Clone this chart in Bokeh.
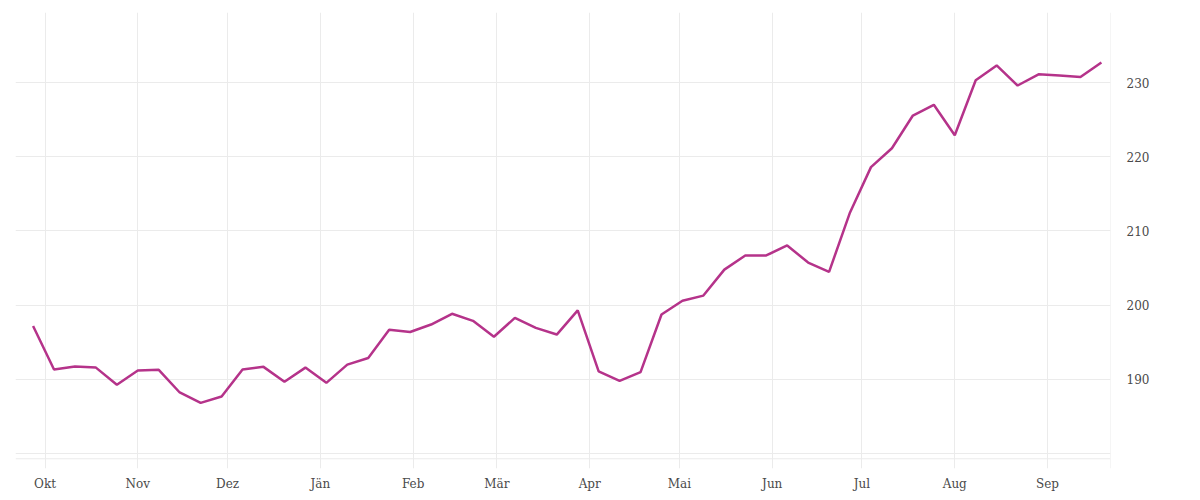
import datetime as dt
import pandas as pd
from bokeh.plotting import figure
from bokeh.models import FixedTicker, Range1d, Span
from bokeh.embed import file_html
from bokeh.resources import INLINE

# ---- data ----
start_date = "2022-09-27"
values = [
    197.2, 191.35, 191.75, 191.6, 189.3, 191.2, 191.3, 188.25, 186.85, 187.7,
    191.35, 191.7, 189.7, 191.6, 189.55, 192.0, 192.9, 196.7, 196.4, 197.4,
    198.85, 197.9, 195.75, 198.3, 196.95, 196.05, 199.3, 191.1, 189.8, 191.0,
    198.75, 200.6, 201.3, 204.8, 206.7, 206.7, 208.05, 205.75, 204.5, 212.5,
    218.6, 221.15, 225.55, 227.0, 222.9, 230.3, 232.3, 229.6, 231.1, 230.95,
    230.75, 232.7,
]
dates = pd.date_range(start_date, periods=len(values), freq="7D")

month_starts = ["2022-10-01", "2022-11-01", "2022-12-01", "2023-01-01", "2023-02-01",
                "2023-03-01", "2023-04-01", "2023-05-01", "2023-06-01", "2023-07-01",
                "2023-08-01", "2023-09-01"]
month_labels = ["Okt", "Nov", "Dez", "Jän", "Feb", "Mär", "Apr", "Mai", "Jun", "Jul", "Aug", "Sep"]
y_ticks = [180, 190, 200, 210, 220, 230]
y_labels = ["", "190", "200", "210", "220", "230"]

# ---- figure ----
def ms(s):
    return pd.Timestamp(s).value / 1e6

x_start = ms("2022-09-21 03:00")
x_end = ms("2023-09-22 01:00")
edge_tick = ms("2023-09-21 23:00")

FONT = "DejaVu Serif"

p = figure(
    x_axis_type="datetime",
    frame_width=1095, frame_height=456,
    x_range=Range1d(x_start, x_end),
    y_range=Range1d(178.01, 239.43),
    y_axis_location="right",
    output_backend="svg", toolbar_location=None,
    min_border_left=15, min_border_top=12, min_border_right=40, min_border_bottom=10,
    background_fill_color="white", border_fill_color="white",
    outline_line_color=None,
)

x_ticks = [ms(d) for d in month_starts] + [edge_tick]
x_over = {ms(d): lab for d, lab in zip(month_starts, month_labels)}
x_over[edge_tick] = ""
p.xaxis.ticker = FixedTicker(ticks=x_ticks)
p.xaxis.major_label_overrides = x_over
p.yaxis.ticker = FixedTicker(ticks=y_ticks)
p.yaxis.major_label_overrides = {float(t): l for t, l in zip(y_ticks, y_labels)}

for ax in (p.xaxis[0], p.yaxis[0]):
    ax.axis_line_color = None
    ax.major_tick_line_color = None
    ax.minor_tick_line_color = None
    ax.major_tick_out = 0
    ax.major_tick_in = 0
    ax.major_label_text_font = FONT
    ax.major_label_text_font_size = "12px"
    ax.major_label_text_color = "#4a4a4a"
p.yaxis.major_label_standoff = 16
p.xaxis.major_label_standoff = 8

p.xgrid.grid_line_color = "#ebebeb"
p.ygrid.grid_line_color = "#ebebeb"
p.xgrid.grid_line_width = 1
p.ygrid.grid_line_width = 1

p.add_layout(Span(location=179.32, dimension="width", line_color="#ebebeb", line_width=1))

p.line(dates, values, line_color="#b5338a", line_width=2.5)

open("out.html", "w").write(file_html(p, INLINE))
